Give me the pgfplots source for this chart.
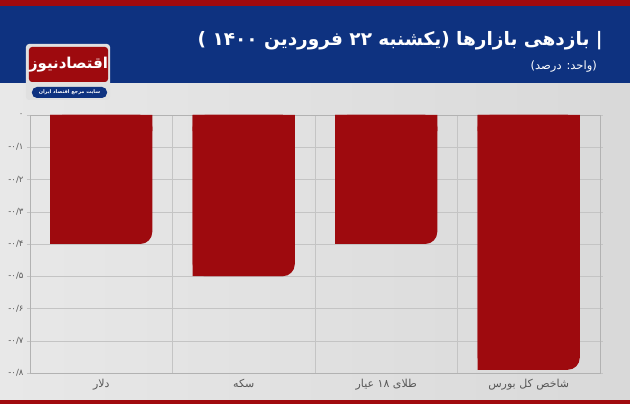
\documentclass[border=0pt]{standalone}
\usepackage{pgfplots}
\pgfplotsset{compat=1.18}
\usepackage{pgfplotstable}
\usepackage{fontspec}
\usetikzlibrary{calc}
\TeXXeTstate=1
\newfontfamily\arabicfont[Script=Arabic]{DejaVu Sans}
\definecolor{barred}{HTML}{9E0A0E}
\definecolor{bandblue}{HTML}{0E3280}
\definecolor{stripred}{HTML}{A00A0E}
\definecolor{gridgray}{HTML}{C4C4C4}
\definecolor{ticktext}{HTML}{585858}
\pgfdeclarelayer{background}
\pgfsetlayers{background,main}

% returns in percent
\pgfplotstableread{
x y
0 -0.40
1 -0.50
2 -0.40
3 -0.79
}\bars

\begin{document}
\begin{tikzpicture}[x=1pt,y=1pt]
\begin{axis}[
  scale only axis, width=570pt, height=258pt,
  xmin=-0.5, xmax=3.5, ymin=-0.8, ymax=0,
  xtick={0,1,2,3},
  xticklabels={{\beginR دلار\endR},{\beginR سکه\endR},{\beginR طلای ۱۸ عیار\endR},{\beginR شاخص کل بورس\endR}},
  minor xtick={0.5,1.5,2.5},
  ytick={-0.8,-0.7,-0.6,-0.5,-0.4,-0.3,-0.2,-0.1,0},
  yticklabels={{\hbox{-}۰/۸},{\hbox{-}۰/۷},{\hbox{-}۰/۶},{\hbox{-}۰/۵},{\hbox{-}۰/۴},{\hbox{-}۰/۳},{\hbox{-}۰/۲},{\hbox{-}۰/۱},{۰}},
  ymajorgrids, xminorgrids,
  major grid style={gridgray},
  minor grid style={gridgray},
  axis line style={black!30},
  x tick style={draw=none},
  minor x tick style={draw=none},
  y tick style={gridgray},
  tick align=outside, major tick length=3pt,
  yticklabel style={font=\arabicfont\fontsize{8.5}{10}\selectfont, text=ticktext},
  xticklabel style={font=\arabicfont\fontsize{11}{13}\selectfont, text=ticktext},
]
\addplot[ybar, bar width=0.716, bar shift=0, fill=barred, draw=none, rounded corners=12pt] table[x=x,y=y] {\bars};
\addplot[ybar, bar width=0.632, bar shift=-0.042, fill=barred, draw=none] table[x=x,y=y] {\bars};
\addplot[ybar, bar width=0.716, bar shift=0, fill=barred, draw=none] coordinates {(0,-0.05)(1,-0.05)(2,-0.05)(3,-0.05)};
\coordinate (axsw) at (rel axis cs:0,0);
\end{axis}

\begin{pgfonlayer}{background}
\begin{scope}[shift={($(axsw)-(30,31)$)}]
% background
\shade[left color=black!9, middle color=black!3, right color=black!15] (0,0) rectangle (630,404);
\fill[stripred] (0,0) rectangle (630,4);
\fill[bandblue] (0,321) rectangle (630,398);
\fill[stripred] (0,398) rectangle (630,404);

% logo
\fill[black!12, rounded corners=3pt] (26,304) rectangle (110,360);
\fill[barred, rounded corners=3pt] (29,322) rectangle (108,357);
\node[text=white, font=\arabicfont\bfseries\fontsize{15}{16}\selectfont] at (68.5,339.5) {\beginR اقتصادنیوز\endR};
\fill[bandblue, rounded corners=5pt] (32,306) rectangle (107,317);
\node[text=white, font=\arabicfont\bfseries\fontsize{5}{6}\selectfont] at (69.5,311.5) {\beginR سایت مرجع اقتصاد ایران\endR};

% titles
\node[anchor=base east, text=white, inner sep=0pt, font=\arabicfont\bfseries\fontsize{18.5}{22}\selectfont] at (603,358) {\beginR | بازدهی بازارها (یکشنبه ۲۲ فروردین ۱۴۰۰ )\endR};
\node[anchor=base east, text=white, inner sep=0pt, font=\arabicfont\fontsize{11.5}{13}\selectfont] at (597,334) {\beginR (واحد: درصد)\endR};
\end{scope}
\end{pgfonlayer}
\end{tikzpicture}
\end{document}
